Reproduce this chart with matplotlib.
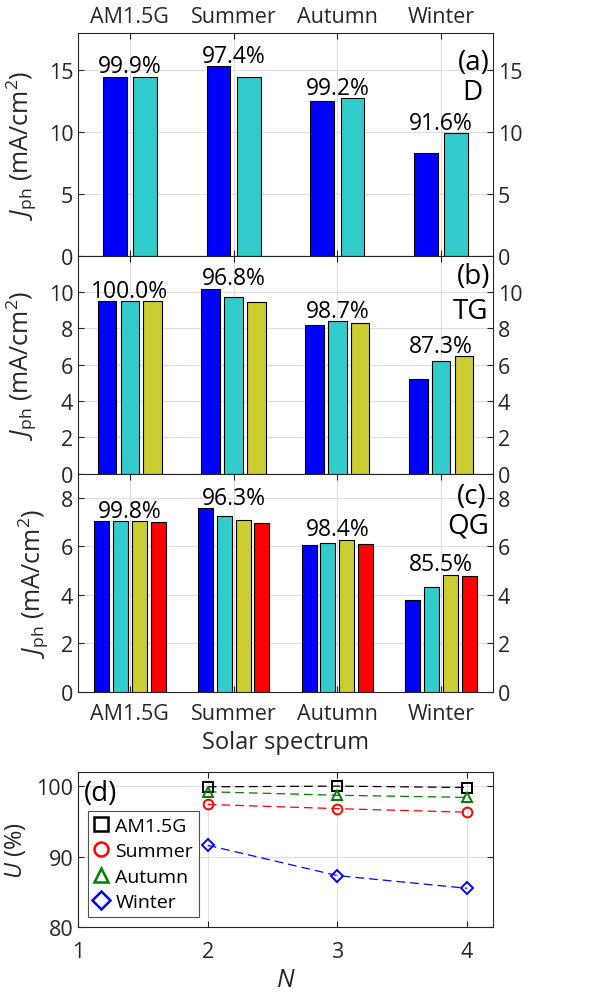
import matplotlib.pyplot as plt
import numpy as np

plt.rcParams['font.family'] = ['Open Sans', 'DejaVu Sans']
plt.rcParams['mathtext.fontset'] = 'custom'
plt.rcParams['mathtext.rm'] = 'Open Sans'
plt.rcParams['mathtext.it'] = 'Open Sans:italic'

spectra = ["AM1.5G", "Summer", "Autumn", "Winter"]

# photocurrent of each junction (mA/cm2), one list per junction
jph_D = [[14.48, 15.30, 12.51, 8.33],
         [14.48, 14.48, 12.76, 9.89]]
jph_TG = [[9.47, 10.18, 8.19, 5.20],
          [9.47, 9.69, 8.37, 6.21],
          [9.47, 9.45, 8.31, 6.45]]
jph_QG = [[7.04, 7.59, 6.05, 3.79],
          [7.04, 7.27, 6.13, 4.31],
          [7.04, 7.10, 6.28, 4.84],
          [7.02, 6.97, 6.10, 4.77]]

util_D = ["99.9%", "97.4%", "99.2%", "91.6%"]
util_TG = ["100.0%", "96.8%", "98.7%", "87.3%"]
util_QG = ["99.8%", "96.3%", "98.4%", "85.5%"]

N = [2, 3, 4]
U_am = [99.9, 100.0, 99.8]
U_summer = [97.4, 96.8, 96.3]
U_autumn = [99.2, 98.7, 98.4]
U_winter = [91.6, 87.3, 85.5]

bar_colors = ["#0000ff", "#33cccc", "#cccc33", "#ff0000"]
txt = "#262626"
gridc = "#dedede"
tickfs = 15.5

fig = plt.figure(figsize=(5.96, 9.95), dpi=100)
W = 0.696
L = 0.131
axa = fig.add_axes([L, 0.7422, W, 0.2236])
axb = fig.add_axes([L, 0.5231, W, 0.2191])
axc = fig.add_axes([L, 0.3035, W, 0.2196])
axd = fig.add_axes([L, 0.0673, W, 0.1558])

x = np.arange(1, 5)

def bar_panel(ax, data, labels, ymax, yticks, tag, name, tagpos, namepos, offsets, width):
	for i, vals in enumerate(data):
		ax.bar(x + offsets[i], vals, width, color=bar_colors[i], edgecolor='black', linewidth=0.8, zorder=3)
	tops = np.max(np.array(data), axis=0)
	for xi, t, lab in zip(x, tops, labels):
		ax.annotate(lab, (xi, t), xytext=(0, 3), textcoords='offset points', ha='center', va='baseline', fontsize=16.5, color='black', zorder=5)
	ax.set_xlim(0.5, 4.5)
	ax.set_ylim(0, ymax)
	ax.set_yticks(yticks)
	ax.set_xticks(x)
	ax.grid(True, color=gridc, linewidth=0.8, zorder=0)
	ax.set_axisbelow(True)
	ax.tick_params(direction='in', length=4, width=0.8, labelsize=tickfs, colors=txt, left=True, right=True, top=True, bottom=True, labelright=True, labelbottom=False)
	ax.tick_params(axis='x', pad=8)
	for s in ax.spines.values():
		s.set_color(txt)
		s.set_linewidth(0.8)
	ax.set_ylabel(r"$J_{\rm ph}$ (mA/cm$^2$)", fontsize=18, color=txt, labelpad=7)
	ax.text(tagpos[0], tagpos[1], tag, transform=ax.transAxes, ha='right', va='center', fontsize=20, color='black')
	ax.text(namepos[0], namepos[1], name, transform=ax.transAxes, ha='right', va='center', fontsize=20, color='black')

bar_panel(axa, jph_D, util_D, 18, [0, 5, 10, 15], "(a)", "D", (0.993, 0.87), (0.975, 0.735), [-0.146, 0.146], 0.23)
bar_panel(axb, jph_TG, util_TG, 12, [0, 2, 4, 6, 8, 10], "(b)", "TG", (0.995, 0.905), (0.99, 0.745), [-0.22, 0.0, 0.22], 0.18)
bar_panel(axc, jph_QG, util_QG, 9, [0, 2, 4, 6, 8], "(c)", "QG", (0.986, 0.895), (0.99, 0.76), [-0.272, -0.091, 0.091, 0.272], 0.145)

axa.tick_params(labeltop=True)
axa.tick_params(axis='x', pad=4)
axa.set_xticklabels(spectra)
axc.tick_params(labelbottom=True)
axc.set_xticklabels(spectra)
axc.set_xlabel("Solar spectrum", fontsize=17, color=txt, labelpad=4)

# panel (d)
series = [(U_am, 'black', 's', "AM1.5G"),
          (U_summer, 'red', 'o', "Summer"),
          (U_autumn, '#008000', '^', "Autumn"),
          (U_winter, 'blue', 'D', "Winter")]
handles = []
for vals, c, m, lab in series:
	axd.plot(N, vals, color=c, linestyle=(0, (7, 4)), linewidth=0.9, zorder=3)
	ms = 6 if m == 'D' else 7
	axd.plot(N, vals, color=c, linestyle='none', marker=m, markersize=ms, markerfacecolor='none', markeredgewidth=1.4, zorder=4)
	handles.append(plt.Line2D([], [], color=c, linestyle='none', marker=m, markersize=ms + 3, markerfacecolor='none', markeredgewidth=1.8, label=lab))

axd.set_xlim(1, 4.2)
axd.set_ylim(80, 102)
axd.set_xticks([1, 2, 3, 4])
axd.set_yticks([80, 90, 100])
axd.grid(True, color=gridc, linewidth=0.8, zorder=0)
axd.tick_params(direction='in', length=4, width=0.8, labelsize=tickfs, colors=txt, left=True, right=True, top=True, bottom=True)
axd.tick_params(axis='x', pad=10)
for s in axd.spines.values():
	s.set_color(txt)
	s.set_linewidth(0.8)
axd.set_ylabel(r"$U$ (%)", fontsize=17, color=txt, labelpad=6)
axd.set_xlabel(r"$N$", fontsize=18, color=txt, labelpad=4)
axd.text(0.015, 0.865, "(d)", transform=axd.transAxes, ha='left', va='center', fontsize=20, color='black')
leg = axd.legend(handles=handles, loc='upper left', bbox_to_anchor=(0.024, 0.748), fontsize=14, frameon=True, fancybox=False, edgecolor=txt, handlelength=0.7, handletextpad=0.4, borderpad=0.3, labelspacing=0.38, borderaxespad=0)
leg.get_frame().set_linewidth(0.8)

fig.savefig("out.png", dpi=100)
